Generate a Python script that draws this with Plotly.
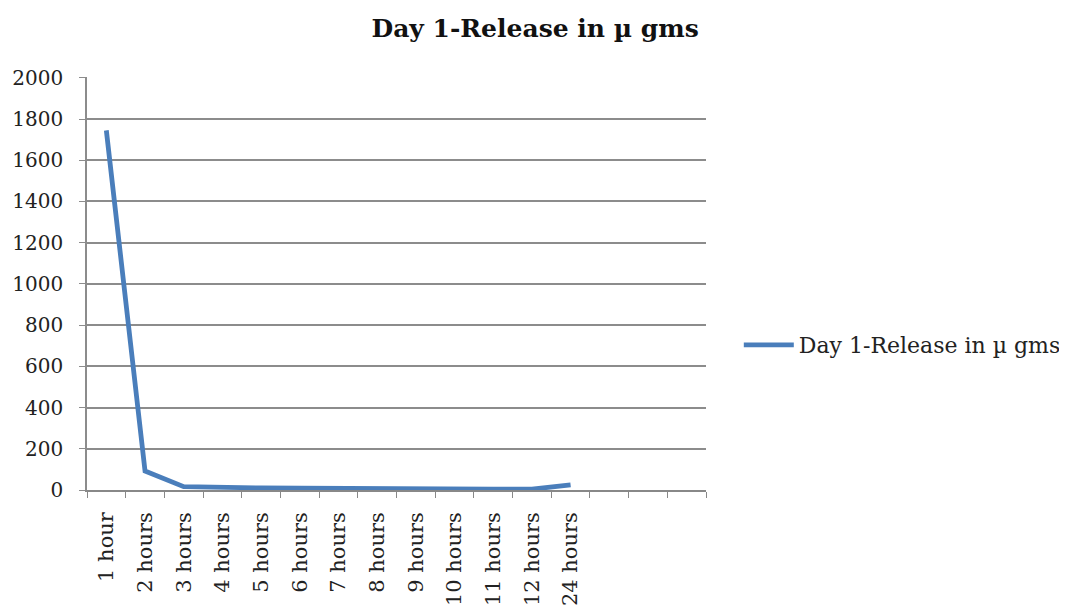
import plotly.graph_objects as go

categories = ["1 hour", "2 hours", "3 hours", "4 hours", "5 hours", "6 hours",
              "7 hours", "8 hours", "9 hours", "10 hours", "11 hours", "12 hours", "24 hours"]
values = [1745, 92, 16, 11, 10, 9, 7, 6, 5, 4, 4, 4, 25]
extra_slots = [" ", "  ", "   "]
series_name = "Day 1-Release in \u00b5 gms"
y_ticks = [0, 200, 400, 600, 800, 1000, 1200, 1400, 1600, 1800, 2000]

FONT = "DejaVu Serif"

fig = go.Figure()
fig.add_trace(go.Scatter(
    x=categories, y=values, mode="lines", name=series_name,
    line=dict(color="#4A7EBB", width=4.8),
))

fig.update_layout(
    width=1067, height=615,
    margin=dict(l=79, r=369, t=69, b=133, autoexpand=False),
    paper_bgcolor="white", plot_bgcolor="white",
    font=dict(family=FONT, size=20, color="#222222"),
    title=dict(text="<b>" + series_name + "</b>", x=0.494, xanchor="center",
               y=0.9675, yanchor="middle", font=dict(family=FONT, size=25, color="#111111")),
    showlegend=True,
    legend=dict(x=1.053, xanchor="left", y=0.351, yanchor="middle", itemwidth=50,
                font=dict(family=FONT, size=22, color="#222222"),
                bgcolor="rgba(0,0,0,0)"),
)
fig.update_xaxes(
    type="category", categoryorder="array", categoryarray=categories + extra_slots,
    range=[-0.5, 15.5], tickson="boundaries", ticks="outside", ticklen=6,
    tickcolor="#888888", tickangle=-90, showgrid=False, showline=True,
    linecolor="#888888", linewidth=1.5, zeroline=False, automargin=False,
    ticklabelstandoff=12,
    tickfont=dict(family=FONT, size=21, color="#222222"),
)
fig.update_yaxes(
    range=[0, 2004], tickvals=y_ticks, showgrid=True, gridcolor="#8C8C8C", gridwidth=1.5,
    showline=True, linecolor="#8C8C8C", linewidth=1.5, ticks="outside", ticklen=6,
    tickcolor="#8C8C8C", zeroline=False, automargin=False, ticklabelstandoff=12,
    tickfont=dict(family=FONT, size=20, color="#222222"),
)

fig.write_html("out.html")
